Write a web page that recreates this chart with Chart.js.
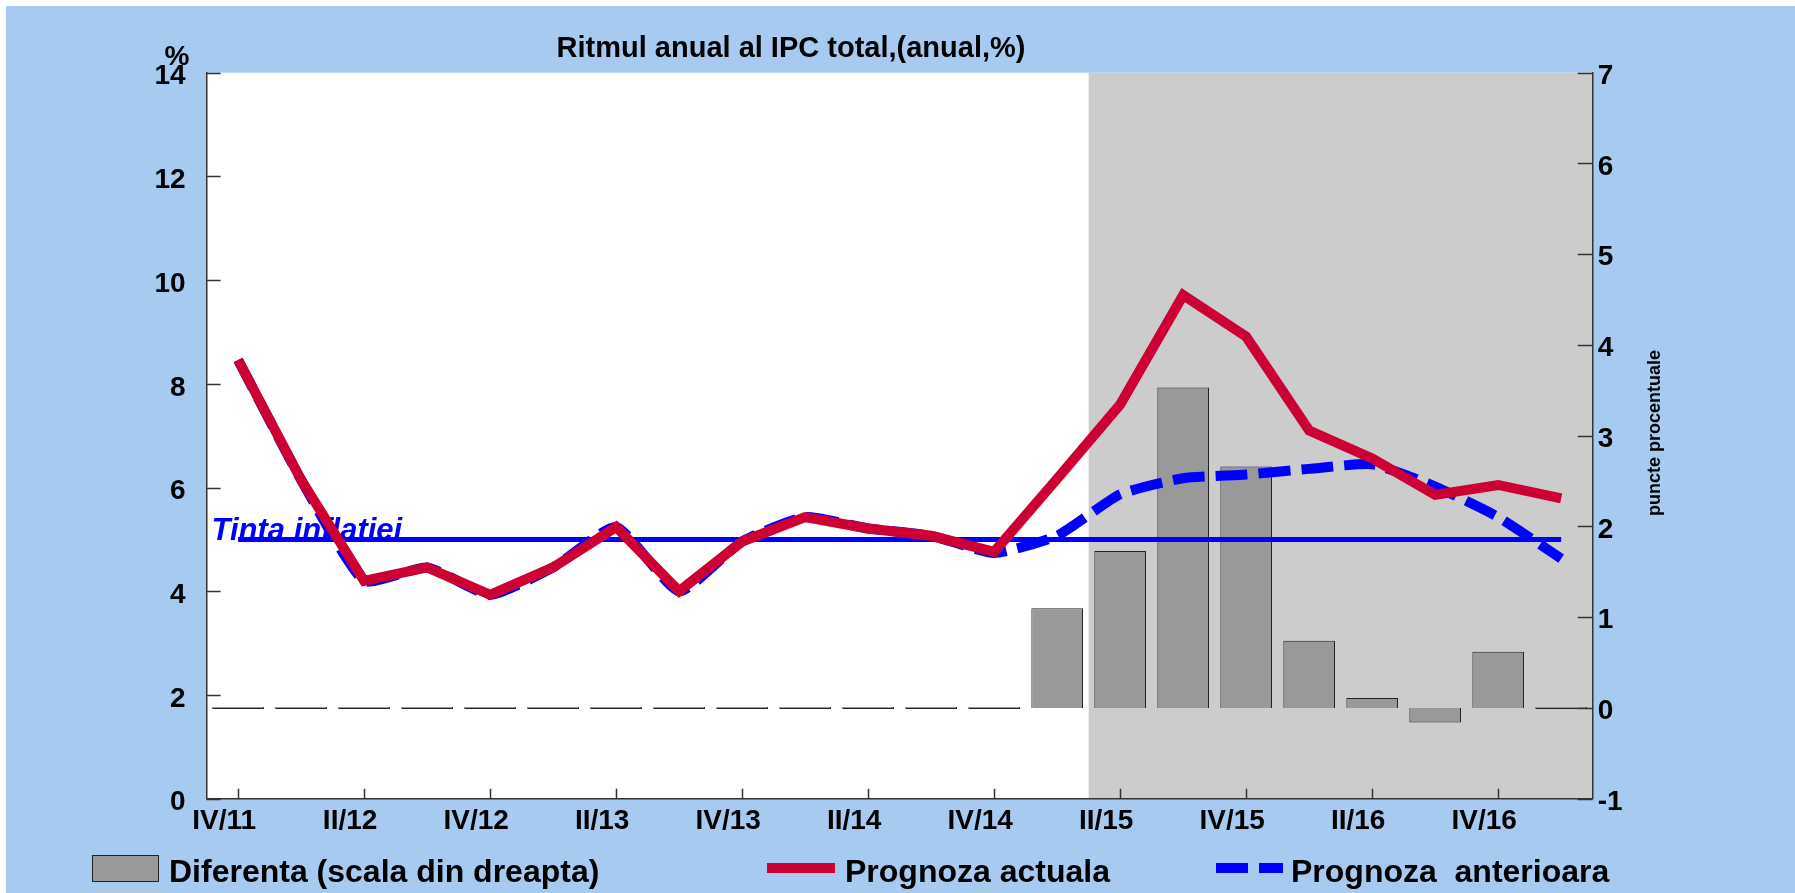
<!DOCTYPE html>
<html>
<head>
<meta charset="utf-8">
<title>Ritmul anual al IPC total</title>
<script src="https://cdn.jsdelivr.net/npm/chart.js@4.4.1/dist/chart.umd.min.js"></script>
<style>
  html, body { margin: 0; padding: 0; background: #fff; }
  #wrap { position: absolute; left: 6px; top: 6px; width: 1789px; height: 887px; }
</style>
</head>
<body>
<div id="wrap"><canvas id="ipc"></canvas></div>
<script>
// trimestre
const quarters = ['IV/11', 'I/12', 'II/12', 'III/12', 'IV/12', 'I/13', 'II/13', 'III/13', 'IV/13',
  'I/14', 'II/14', 'III/14', 'IV/14', 'I/15', 'II/15', 'III/15', 'IV/15', 'I/16', 'II/16', 'III/16', 'IV/16', 'I/17'];

// rata anuala IPC, % (scala din stanga)
const prognozaActuala = [8.46, 6.15, 4.20, 4.46, 3.93, 4.46, 5.24, 4.00, 4.96, 5.43, 5.21, 5.07, 4.76,
  6.17, 7.60, 9.71, 8.91, 7.10, 6.56, 5.86, 6.05, 5.79];
const prognozaAnterioara = [8.46, 6.15, 4.20, 4.46, 3.93, 4.46, 5.24, 4.00, 4.96, 5.43, 5.21, 5.07, 4.74,
  5.07, 5.87, 6.18, 6.25, 6.36, 6.45, 6.02, 5.43, 4.63];
const tintaInflatiei = [5, 5, 5, 5, 5, 5, 5, 5, 5, 5, 5, 5, 5, 5, 5, 5, 5, 5, 5, 5, 5, 5];

// diferenta, puncte procentuale (scala din dreapta)
const diferenta = [0, 0, 0, 0, 0, 0, 0, 0, 0, 0, 0, 0, 0,
  1.10, 1.73, 3.53, 2.66, 0.74, 0.11, -0.16, 0.62, 0];

const leftTicks = { min: 0, max: 14, step: 2 };
const rightTicks = { min: -1, max: 7, step: 1 };
const forecastFrom = 'II/15';

const FONT = '"Liberation Sans", Arial, sans-serif';
Chart.defaults.font.family = FONT;
Chart.defaults.font.weight = 'bold';
Chart.defaults.color = '#000';

const AXIS = '#333';

const decor = {
  id: 'decor',
  beforeDraw(chart) {
    const { ctx, chartArea: a, scales: { x } } = chart;
    ctx.save();
    ctx.fillStyle = '#A6CAF0';
    ctx.fillRect(0, 0, chart.width, chart.height);
    ctx.fillStyle = '#fff';
    ctx.fillRect(a.left, a.top, a.width, a.height);
    // perioada de prognoza
    const i = quarters.indexOf(forecastFrom);
    const xs = (x.getPixelForValue(i - 1) + x.getPixelForValue(i)) / 2;
    ctx.fillStyle = '#CCCCCC';
    ctx.fillRect(xs, a.top, a.right - xs, a.height);
    ctx.restore();
  },
  beforeDatasetsDraw(chart) {
    const { ctx, chartArea: a, scales: { y } } = chart;
    ctx.save();
    ctx.font = 'italic bold 31px ' + FONT;
    ctx.fillStyle = '#0000FF';
    ctx.textBaseline = 'alphabetic';
    ctx.fillText('Tinta inflatiei', a.left + 5, y.getPixelForValue(tintaInflatiei[0]) + 1);
    ctx.restore();
  },
  afterDatasetsDraw(chart) {
    const { ctx, chartArea: a, scales: { x, y, y1 } } = chart;
    ctx.save();
    ctx.strokeStyle = AXIS;
    ctx.lineWidth = 1.5;
    ctx.beginPath();
    y.ticks.forEach((t, i) => {
      const p = Math.round(y.getPixelForTick(i)) + 0.5;
      ctx.moveTo(a.left, p); ctx.lineTo(a.left + 14, p);
    });
    y1.ticks.forEach((t, i) => {
      const p = Math.round(y1.getPixelForTick(i)) + 0.5;
      ctx.moveTo(a.right - 15, p); ctx.lineTo(a.right, p);
    });
    x.ticks.forEach((t, i) => {
      if (i % 2) return;
      const p = Math.round(x.getPixelForTick(i)) + 0.5;
      ctx.moveTo(p, a.bottom); ctx.lineTo(p, a.bottom - 10);
    });
    ctx.stroke();
    ctx.restore();
  },
  afterDraw(chart) {
    const { ctx } = chart;
    const ds = chart.data.datasets;
    ctx.save();
    ctx.fillStyle = '#000';
    ctx.textBaseline = 'alphabetic';

    ctx.font = 'bold 29px ' + FONT;
    ctx.textAlign = 'center';
    ctx.fillText('Ritmul anual al IPC total,(anual,%)', 785, 51);

    ctx.font = 'bold 28px ' + FONT;
    ctx.fillText('%', 171, 59);

    // titlul axei din dreapta
    ctx.save();
    ctx.translate(1649, 427);
    ctx.rotate(-Math.PI / 2);
    ctx.font = 'bold 18px ' + FONT;
    ctx.textBaseline = 'middle';
    ctx.fillText('puncte procentuale', 0, 0);
    ctx.restore();

    // legenda
    ctx.textAlign = 'left';
    ctx.font = 'bold 32px ' + FONT;
    const bars = ds[3], act = ds[0], ant = ds[1];

    ctx.fillStyle = bars.backgroundColor;
    ctx.fillRect(86, 849, 67, 27);
    ctx.strokeStyle = bars.borderColor;
    ctx.lineWidth = 1;
    ctx.strokeRect(86.5, 849.5, 66, 26);
    ctx.fillStyle = '#000';
    ctx.fillText(bars.label, 163, 876);

    ctx.lineCap = 'butt';
    ctx.strokeStyle = act.borderColor;
    ctx.lineWidth = act.borderWidth;
    ctx.beginPath(); ctx.moveTo(761, 862); ctx.lineTo(829, 862); ctx.stroke();
    ctx.fillText(act.label, 839, 876);

    ctx.strokeStyle = ant.borderColor;
    ctx.lineWidth = ant.borderWidth;
    ctx.setLineDash(ant.borderDash);
    ctx.beginPath(); ctx.moveTo(1210, 862); ctx.lineTo(1277, 862); ctx.stroke();
    ctx.setLineDash([]);
    ctx.fillText(ant.label, 1285, 876);
    ctx.restore();
  }
};

new Chart(document.getElementById('ipc'), {
  type: 'bar',
  data: {
    labels: quarters,
    datasets: [
      {
        type: 'line',
        label: 'Prognoza actuala',
        data: prognozaActuala,
        yAxisID: 'y',
        borderColor: '#CC0033',
        borderWidth: 10,
        borderJoinStyle: 'miter',
        pointRadius: 0,
        tension: 0,
        order: 1
      },
      {
        type: 'line',
        label: 'Prognoza  anterioara',
        data: prognozaAnterioara,
        yAxisID: 'y',
        borderColor: '#0000FF',
        borderWidth: 10,
        borderDash: [32, 11],
        pointRadius: 0,
        tension: 0.17,
        order: 2
      },
      {
        type: 'line',
        label: 'Tinta inflatiei',
        data: tintaInflatiei,
        yAxisID: 'y',
        borderColor: '#0000FF',
        borderWidth: 5,
        pointRadius: 0,
        order: 3
      },
      {
        label: 'Diferenta (scala din dreapta)',
        data: diferenta,
        yAxisID: 'y1',
        backgroundColor: '#999999',
        borderColor: '#222222',
        borderWidth: 1,
        minBarLength: 2,
        categoryPercentage: 1,
        barPercentage: 0.82,
        order: 4
      }
    ]
  },
  options: {
    responsive: true,
    maintainAspectRatio: false,
    animation: false,
    devicePixelRatio: 1,
    layout: { padding: { top: 66.7, left: 0, right: 0, bottom: 0 } },
    plugins: {
      legend: { display: false },
      title: { display: false },
      tooltip: { enabled: false }
    },
    scales: {
      x: {
        grid: { display: false, drawTicks: false },
        border: { color: AXIS, width: 1.5 },
        ticks: {
          autoSkip: false,
          maxRotation: 0,
          minRotation: 0,
          padding: 6,
          labelOffset: -14,
          font: { size: 28, weight: 'bold' },
          callback: (v, i) => (i % 2 === 0 ? quarters[i] : '')
        },
        afterFit: s => { s.height = 94.3; }
      },
      y: {
        position: 'left',
        min: leftTicks.min,
        max: leftTicks.max,
        grid: { display: false, drawTicks: false },
        border: { color: AXIS, width: 1.5 },
        ticks: { stepSize: leftTicks.step, padding: 21, labelOffset: 4, font: { size: 28, weight: 'bold' } },
        afterFit: s => { s.width = 200.6; }
      },
      y1: {
        position: 'right',
        min: rightTicks.min,
        max: rightTicks.max,
        grid: { display: false, drawTicks: false },
        border: { color: AXIS, width: 1.5 },
        ticks: { stepSize: rightTicks.step, padding: 5, labelOffset: 3.5, font: { size: 28, weight: 'bold' } },
        afterFit: s => { s.width = 202.3; }
      }
    }
  },
  plugins: [decor]
});
</script>
</body>
</html>
